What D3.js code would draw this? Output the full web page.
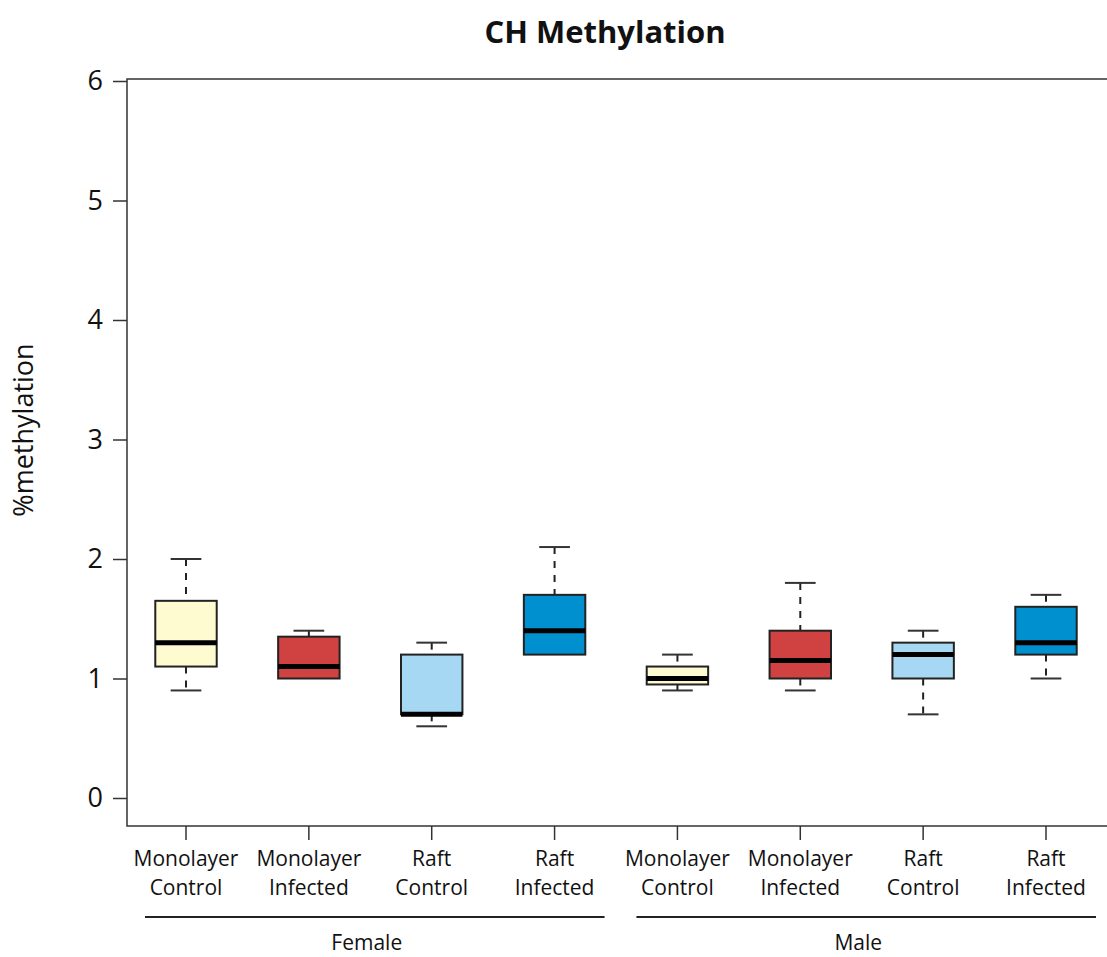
<!DOCTYPE html>
<html>
<head>
<meta charset="utf-8">
<script src="https://cdn.jsdelivr.net/npm/d3@7"></script>
<style>
  body { margin: 0; background: #fff; }
  text { font-family: "Open Sans", "Noto Sans", sans-serif; fill: #111; }
</style>
</head>
<body>
<div id="grafik"></div>
<script>
// Veriler
const gruplar = ["Monolayer\nControl", "Monolayer\nInfected", "Raft\nControl", "Raft\nInfected",
                 "Monolayer\nControl", "Monolayer\nInfected", "Raft\nControl", "Raft\nInfected"];
const altMin   = [0.9, 1.0, 0.6, 1.2, 0.9, 0.9, 0.7, 1.0];
const ceyrek1  = [1.1, 1.0, 0.7, 1.2, 0.95, 1.0, 1.0, 1.2];
const ortanca  = [1.3, 1.1, 0.7, 1.4, 1.0, 1.15, 1.2, 1.3];
const ceyrek3  = [1.65, 1.35, 1.2, 1.7, 1.1, 1.4, 1.3, 1.6];
const ustMax   = [2.0, 1.4, 1.3, 2.1, 1.2, 1.8, 1.4, 1.7];
const renkler  = ["#fffbd0", "#d04242", "#a7d8f3", "#0090d0", "#fffbd0", "#d04242", "#a7d8f3", "#0090d0"];
const yTikler  = [0, 1, 2, 3, 4, 5, 6];
const cinsiyet = [{ ad: "Female", bas: 0, son: 3 }, { ad: "Male", bas: 4, son: 7 }];

const genislik = 1107, yukseklik = 957;
const sol = 127, ust = 79, sag = 1109, alt = 826;

const svg = d3.select("#grafik").append("svg")
  .attr("width", genislik)
  .attr("height", yukseklik);

const x = d3.scaleLinear().domain([1, 8]).range([186, 1046]);
const y = d3.scaleLinear().domain([0, 6]).range([798, 81]);

// Baslik
svg.append("text")
  .attr("x", 605).attr("y", 43)
  .attr("text-anchor", "middle")
  .style("font-size", "31px").style("font-weight", "bold")
  .text("CH Methylation");

// Cerceve
svg.append("rect")
  .attr("x", sol).attr("y", ust)
  .attr("width", sag - sol).attr("height", alt - ust)
  .attr("fill", "none").attr("stroke", "#333").attr("stroke-width", 1.5);

// Y ekseni
const yEkseni = svg.append("g")
  .attr("transform", `translate(${sol},0)`)
  .call(d3.axisLeft(y).tickValues(yTikler).tickSize(14).tickPadding(10).tickFormat(d3.format("d")));
yEkseni.select(".domain").remove();
yEkseni.selectAll(".tick line").attr("stroke", "#333").attr("stroke-width", 1.5);
yEkseni.selectAll(".tick text").style("font-size", "27px").attr("fill", "#111")
  .style("font-family", "'Open Sans', sans-serif");

svg.append("text")
  .attr("transform", "translate(33,430) rotate(-90)")
  .attr("text-anchor", "middle")
  .style("font-size", "27px")
  .text("%methylation");

// X ekseni tikleri ve etiketleri
const indeks = d3.range(1, 9);
svg.append("g").selectAll("line")
  .data(indeks).enter().append("line")
  .attr("x1", d => x(d)).attr("x2", d => x(d))
  .attr("y1", alt).attr("y2", alt + 14)
  .attr("stroke", "#333").attr("stroke-width", 1.5);

const etiket = svg.append("g").selectAll("text")
  .data(gruplar).enter().append("text")
  .attr("x", (d, i) => x(i + 1))
  .attr("text-anchor", "middle")
  .style("font-size", "21px");
etiket.each(function (d, i) {
  d.split("\n").forEach((satir, j) => {
    d3.select(this).append("tspan")
      .attr("x", x(i + 1))
      .attr("y", 866 + j * 29)
      .text(satir);
  });
});

// Cinsiyet cizgileri
cinsiyet.forEach(c => {
  const x1 = x(c.bas + 1) - 41, x2 = x(c.son + 1) + 50;
  svg.append("line")
    .attr("x1", x1).attr("x2", x2)
    .attr("y1", 917).attr("y2", 917)
    .attr("stroke", "#222").attr("stroke-width", 1.8);
  svg.append("text")
    .attr("x", (x1 + x2) / 2 - 8).attr("y", 950)
    .attr("text-anchor", "middle")
    .style("font-size", "21px")
    .text(c.ad);
});

// Kutu grafikleri
const kutuYari = 0.25 * (x(2) - x(1));
const kapakYari = kutuYari / 2;
const kutular = svg.append("g").selectAll("g")
  .data(indeks.map(i => i - 1)).enter().append("g");

// Biyikler (kesikli)
kutular.append("line")
  .attr("x1", i => x(i + 1)).attr("x2", i => x(i + 1))
  .attr("y1", i => y(ustMax[i])).attr("y2", i => y(ceyrek3[i]))
  .attr("stroke", "#222").attr("stroke-width", 2).attr("stroke-dasharray", "7,7");
kutular.append("line")
  .attr("x1", i => x(i + 1)).attr("x2", i => x(i + 1))
  .attr("y1", i => y(ceyrek1[i])).attr("y2", i => y(altMin[i]))
  .attr("stroke", "#222").attr("stroke-width", 2).attr("stroke-dasharray", "7,7");

// Kapaklar
kutular.append("line")
  .attr("x1", i => x(i + 1) - kapakYari).attr("x2", i => x(i + 1) + kapakYari)
  .attr("y1", i => y(ustMax[i])).attr("y2", i => y(ustMax[i]))
  .attr("stroke", "#333").attr("stroke-width", 2);
kutular.filter(i => altMin[i] < ceyrek1[i]).append("line")
  .attr("x1", i => x(i + 1) - kapakYari).attr("x2", i => x(i + 1) + kapakYari)
  .attr("y1", i => y(altMin[i])).attr("y2", i => y(altMin[i]))
  .attr("stroke", "#333").attr("stroke-width", 2);

// Kutular
kutular.append("rect")
  .attr("x", i => x(i + 1) - kutuYari)
  .attr("width", 2 * kutuYari)
  .attr("y", i => y(ceyrek3[i]))
  .attr("height", i => y(ceyrek1[i]) - y(ceyrek3[i]))
  .attr("fill", i => renkler[i])
  .attr("stroke", "#222").attr("stroke-width", 2);

// Ortanca
kutular.append("line")
  .attr("x1", i => x(i + 1) - kutuYari).attr("x2", i => x(i + 1) + kutuYari)
  .attr("y1", i => y(ortanca[i])).attr("y2", i => y(ortanca[i]))
  .attr("stroke", "#000").attr("stroke-width", 5);
</script>
</body>
</html>
